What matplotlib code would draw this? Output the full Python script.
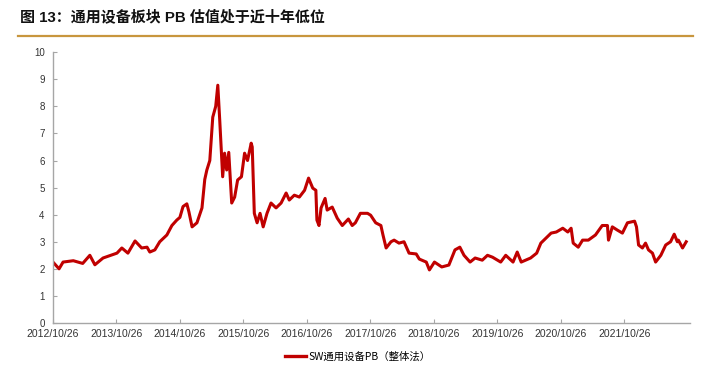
import matplotlib

matplotlib.use("Agg")
import matplotlib.dates as mdates
import matplotlib.pyplot as plt
import pandas as pd
from matplotlib.lines import Line2D

plt.rcParams["font.family"] = ["Liberation Sans", "Noto Sans CJK SC", "DejaVu Sans"]

TITLE = "图 13：通用设备板块 PB 估值处于近十年低位"
LABEL = "SW通用设备PB（整体法）"
RED, GOLD, AXIS = "#C00000", "#C8963E", "#A6A6A6"

# PB, one point per visible turn of the line
dates = [
    "2012-10-26", "2012-11-30", "2012-12-23", "2013-02-20", "2013-04-15", "2013-05-26",
    "2013-06-24", "2013-08-10", "2013-10-29", "2013-11-26", "2013-12-31", "2014-02-10",
    "2014-03-20", "2014-04-20", "2014-05-06", "2014-06-04", "2014-07-02", "2014-08-12",
    "2014-09-10", "2014-10-08", "2014-10-26", "2014-11-13", "2014-12-05", "2014-12-17",
    "2015-01-04", "2015-02-01", "2015-03-02", "2015-03-18", "2015-03-30", "2015-04-16",
    "2015-05-03", "2015-05-20", "2015-06-01", "2015-06-12", "2015-06-29", "2015-07-10",
    "2015-07-22", "2015-08-03", "2015-08-20", "2015-09-06", "2015-09-23", "2015-10-15",
    "2015-11-02", "2015-11-13", "2015-11-19", "2015-12-10", "2015-12-16", "2015-12-28",
    "2016-01-13", "2016-01-30", "2016-02-17", "2016-03-10", "2016-04-02", "2016-05-01",
    "2016-05-30", "2016-06-28", "2016-07-16", "2016-08-14", "2016-09-12", "2016-10-12",
    "2016-11-04", "2016-11-28", "2016-12-16", "2016-12-22", "2017-01-03", "2017-01-15",
    "2017-02-07", "2017-02-19", "2017-03-20", "2017-04-18", "2017-05-17", "2017-06-21",
    "2017-07-13", "2017-07-31", "2017-08-29", "2017-10-09", "2017-10-27", "2017-11-25",
    "2017-12-25", "2018-01-06", "2018-01-24", "2018-02-21", "2018-03-11", "2018-04-08",
    "2018-05-07", "2018-06-05", "2018-07-16", "2018-08-03", "2018-09-12", "2018-09-30",
    "2018-10-29", "2018-12-10", "2019-01-20", "2019-02-24", "2019-03-24", "2019-04-17",
    "2019-05-22", "2019-06-20", "2019-07-31", "2019-08-30", "2019-09-28", "2019-11-14",
    "2019-12-13", "2020-01-24", "2020-02-17", "2020-03-11", "2020-05-04", "2020-06-08",
    "2020-07-02", "2020-08-01", "2020-08-30", "2020-09-29", "2020-11-05", "2020-12-04",
    "2020-12-23", "2021-01-04", "2021-02-02", "2021-02-27", "2021-04-01", "2021-05-12",
    "2021-06-20", "2021-07-20", "2021-07-26", "2021-08-17", "2021-09-15", "2021-10-14",
    "2021-11-12", "2021-12-23", "2022-01-03", "2022-01-15", "2022-02-06", "2022-02-24",
    "2022-03-13", "2022-04-05", "2022-04-23", "2022-05-23", "2022-06-20", "2022-07-18",
    "2022-08-08", "2022-08-26", "2022-09-01", "2022-09-25", "2022-10-16",
]
pb = [
    2.25, 2.00, 2.25, 2.30, 2.20, 2.50,
    2.15, 2.40, 2.58, 2.77, 2.58, 3.03,
    2.77, 2.80, 2.62, 2.70, 3.00, 3.25,
    3.60, 3.80, 3.90, 4.30, 4.40, 4.10,
    3.55, 3.70, 4.25, 5.30, 5.65, 6.00,
    7.60, 8.00, 8.78, 7.50, 5.40, 6.27,
    5.65, 6.30, 4.43, 4.65, 5.28, 5.40,
    6.27, 6.10, 6.00, 6.64, 6.50, 4.05,
    3.70, 4.05, 3.55, 4.05, 4.43, 4.25,
    4.43, 4.80, 4.54, 4.72, 4.65, 4.90,
    5.35, 4.98, 4.90, 3.80, 3.60, 4.25,
    4.60, 4.17, 4.28, 3.87, 3.60, 3.84,
    3.60, 3.70, 4.05, 4.05, 3.98, 3.70,
    3.60, 3.25, 2.77, 3.00, 3.06, 2.95,
    3.00, 2.58, 2.55, 2.36, 2.25, 1.96,
    2.25, 2.07, 2.14, 2.70, 2.80, 2.50,
    2.25, 2.40, 2.32, 2.50, 2.43, 2.25,
    2.50, 2.25, 2.62, 2.25, 2.40, 2.58,
    2.95, 3.14, 3.32, 3.36, 3.50, 3.36,
    3.50, 2.95, 2.80, 3.06, 3.06, 3.25,
    3.60, 3.60, 3.06, 3.55, 3.43, 3.32,
    3.70, 3.76, 3.55, 2.88, 2.77, 2.95,
    2.70, 2.58, 2.25, 2.50, 2.88, 3.00,
    3.28, 3.00, 3.06, 2.77, 3.00,
]
tick_dates = [f"{y}-10-26" for y in range(2012, 2022)]

x = pd.to_datetime(dates)

fig = plt.figure(figsize=(7.12, 3.70), dpi=100)
ax = fig.add_axes([0.0744, 0.127, 0.895, 0.732])

ax.plot(x, pb, color=RED, lw=2.2, solid_joinstyle="round")

ax.set_ylim(0, 10)
ax.set_yticks(range(0, 11))
ax.set_xlim(pd.Timestamp("2012-10-26"), pd.Timestamp("2022-11-08"))
ax.set_xticks(pd.to_datetime(tick_dates))
ax.xaxis.set_major_formatter(mdates.DateFormatter("%Y/%m/%d"))

for s in ("top", "right"):
    ax.spines[s].set_visible(False)
for s in ("left", "bottom"):
    ax.spines[s].set_color(AXIS)
    ax.spines[s].set_linewidth(1.0)
ax.tick_params(direction="in", length=3, width=0.8, color=AXIS, labelsize=7, labelcolor="#333333")
ax.tick_params(axis="x", pad=4)
ax.tick_params(axis="y", pad=6)
for t in ax.get_xticklabels():
    t.set_fontfamily(["Liberation Sans Narrow", "Liberation Sans", "DejaVu Sans"])
    t.set_fontsize(7.5)

fig.text(20 / 712, 1 - 17 / 370, TITLE, fontsize=10.8, fontweight="bold", va="center", ha="left",
         family=["Liberation Sans", "Noto Sans CJK SC"], color="#111111")
fig.add_artist(Line2D([18 / 712, 693 / 712], [1 - 36 / 370, 1 - 36 / 370], color=GOLD, lw=1.6,
                      transform=fig.transFigure))

leg = fig.legend([Line2D([], [], color=RED, lw=2.4)], [LABEL], loc="center",
                 bbox_to_anchor=(358 / 712, 1 - 357 / 370), frameon=False, handlelength=2.0,
                 handletextpad=0.2, prop={"family": ["Noto Sans CJK SC"], "size": 7.5})

fig.savefig("out.png", dpi=100, facecolor="white")
